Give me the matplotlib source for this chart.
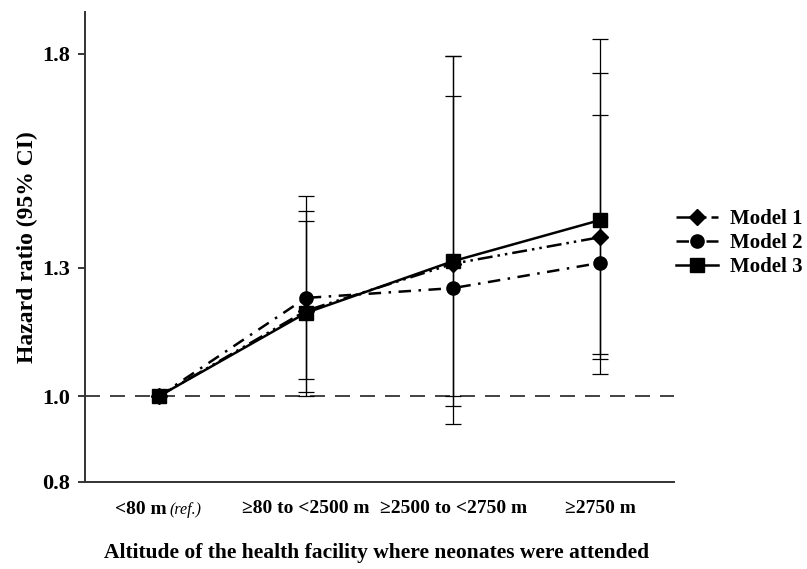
import matplotlib
matplotlib.use('Agg')
import matplotlib.pyplot as plt
import numpy as np

plt.rcParams['font.family'] = ['Liberation Serif', 'DejaVu Serif']
plt.rcParams['font.weight'] = 'bold'

categories = ['<80 m', '≥80 to <2500 m', '≥2500 to <2750 m', '≥2750 m']

# hazard ratios and 95% CI per model
model1_hr = [1.0, 1.20, 1.31, 1.372]
model1_lo = [1.0, 1.01, 0.978, 1.087]
model1_hi = [1.0, 1.433, 1.795, 1.756]

model2_hr = [1.0, 1.23, 1.253, 1.312]
model2_lo = [1.0, 1.041, 1.0, 1.099]
model2_hi = [1.0, 1.468, 1.702, 1.657]

model3_hr = [1.0, 1.195, 1.316, 1.412]
model3_lo = [1.0, 1.001, 0.936, 1.052]
model3_hi = [1.0, 1.41, 1.795, 1.835]

models = [
    ('Model 1', model1_hr, model1_lo, model1_hi, 'D', 8, (0, (6, 2, 1, 2, 1, 2))),
    ('Model 2', model2_hr, model2_lo, model2_hi, 'o', 9.5, (0, (5, 3, 1, 3))),
    ('Model 3', model3_hr, model3_lo, model3_hi, 's', 9.5, '-'),
]

fig = plt.figure(figsize=(8.07, 5.69), dpi=100)
ax = fig.add_axes([85 / 807, 1 - 482 / 569, (674 - 85) / 807, (482 - 12) / 569])

x = np.arange(len(categories))

ax.axhline(1.0, color='#222222', lw=1.2, ls=(0, (9, 6)), zorder=1)

for name, hr, lo, hi, mk, ms, ls in models:
    hr = np.array(hr)
    err = np.vstack([hr - np.array(lo), np.array(hi) - hr])
    ax.errorbar(x, hr, yerr=err, fmt='none', ecolor='black', elinewidth=0.9,
                capsize=6, capthick=0.9, zorder=2)

for name, hr, lo, hi, mk, ms, ls in models:
    ax.plot(x, hr, color='black', lw=1.8, ls=ls, marker=mk, markersize=ms,
            label=name, zorder=3)

ax.set_xlim(-0.5, 3.5)
ax.set_ylim(0.8, 1.898)
ax.set_yticks([0.8, 1.0, 1.3, 1.8])
ax.set_yticklabels(['0.8', '1.0', '1.3', '1.8'], fontsize=16, fontweight='bold')
ax.set_xticks(x)
ax.set_xticklabels([''] + categories[1:], fontsize=14, fontweight='bold')
ax.tick_params(axis='x', length=0, pad=13)
ax.tick_params(axis='y', length=5, width=1.1, pad=6)

for side in ['top', 'right']:
    ax.spines[side].set_visible(False)
for side in ['left', 'bottom']:
    ax.spines[side].set_color('#333333')
    ax.spines[side].set_linewidth(1.4)

# first category label with italic "(ref.)"
t0 = ax.annotate(categories[0], xy=(0, 0), xycoords=('data', 'axes fraction'),
                 xytext=(-18, -27), textcoords='offset pixels',
                 ha='center', va='center', fontsize=14, fontweight='bold')
ax.annotate('(ref.)', xy=(1, 0.5), xycoords=t0, xytext=(3, -0.5),
            textcoords='offset pixels', ha='left', va='center',
            fontsize=11.5, fontstyle='italic', fontweight='normal')

ax.set_ylabel('Hazard ratio (95% CI)', fontsize=17, fontweight='bold', labelpad=3)
fig.text(377 / 807, 1 - 553 / 569,
         'Altitude of the health facility where neonates were attended',
         ha='center', va='center', fontsize=15.5, fontweight='bold')

ax.legend(loc='center left', bbox_to_anchor=(676 / 807, 1 - 243 / 569),
          bbox_transform=fig.transFigure, frameon=False,
          handlelength=2.0, handletextpad=0.6, labelspacing=0.2,
          borderpad=0, borderaxespad=0, prop={'weight': 'bold', 'size': 15})

fig.savefig('out.png', dpi=100)
